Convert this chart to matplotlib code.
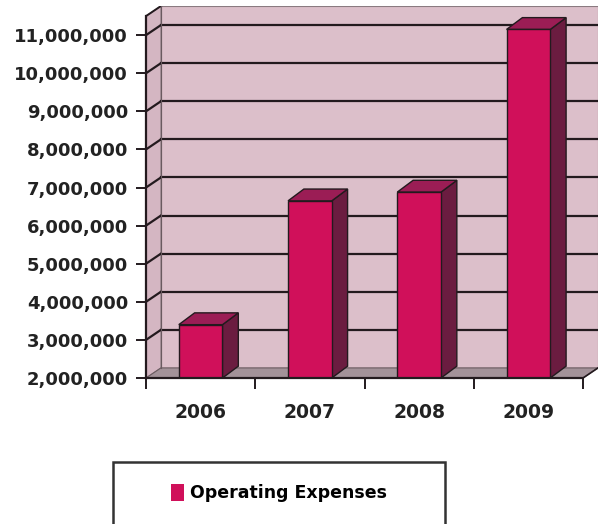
import matplotlib
matplotlib.use("Agg")
import matplotlib.pyplot as plt
from matplotlib.patches import Polygon, Rectangle
import numpy as np

categories = ["2006", "2007", "2008", "2009"]
expenses = [3400000, 6650000, 6880000, 11150000]
tick_values = [2000000, 3000000, 4000000, 5000000, 6000000, 7000000,
               8000000, 9000000, 10000000, 11000000]
series_name = "Operating Expenses"

W, H = 604, 524
fig = plt.figure(figsize=(W / 100, H / 100), dpi=100)
fig.patch.set_facecolor("white")

# axes area in pixels (front axis origin at x=146, y=378)
left_px, right_px, bottom_px, top_px = 146, 598, 378, 6
ax = fig.add_axes([left_px / W, (H - bottom_px) / H,
                   (right_px - left_px) / W, (bottom_px - top_px) / H])

ymin = 2000000
wall_top = 11500000
wdx, wdy = 0.137, 265000       # depth offset of the walls
bdx, bdy = 0.145, 310000       # depth offset of the bars
x0, x1 = -0.5, len(categories) - 0.5
ax.set_xlim(x0, x1 + wdx)
ax.set_ylim(ymin, wall_top + wdy)

wall_col = "#dcbfca"
side_wall_col = "#d4b6c2"
floor_col = "#a39299"
edge = "#231a1e"

# back wall
ax.add_patch(Rectangle((x0 + wdx, ymin + wdy), x1 - x0, wall_top - ymin,
                       facecolor=wall_col, edgecolor="#8a7a80", lw=0.8, zorder=0))
# left side wall
ax.add_patch(Polygon([(x0, ymin), (x0 + wdx, ymin + wdy), (x0 + wdx, wall_top + wdy),
                      (x0, wall_top)], closed=True, facecolor=side_wall_col,
                     edgecolor="#8a7a80", lw=0.8, zorder=0))
# floor
ax.add_patch(Polygon([(x0, ymin), (x1, ymin), (x1 + wdx, ymin + wdy), (x0 + wdx, ymin + wdy)],
                     closed=True, facecolor=floor_col, edgecolor="#6a5a60", lw=0.8, zorder=0.5))

# gridlines
for v in tick_values[1:]:
    ax.plot([x0 + wdx, x1 + wdx], [v + wdy, v + wdy], color=edge, lw=1.6, zorder=1)
    ax.plot([x0, x0 + wdx], [v, v + wdy], color=edge, lw=1.6, zorder=1)
ax.plot([x0, x0 + wdx], [wall_top, wall_top + wdy], color=edge, lw=1.4, zorder=1)
ax.plot([x0 + wdx, x0 + wdx], [ymin + wdy, wall_top + wdy], color="#6a5a60", lw=0.8, zorder=1)
ax.plot([x1, x1 + wdx], [ymin, ymin + wdy], color=edge, lw=1.2, zorder=1)

# bars
front_col = "#d0105a"
top_col = "#9b1d55"
side_col = "#6b1c40"
xs = np.arange(len(categories))
bw = 0.40
vals = np.array(expenses)
ax.bar(xs, vals - ymin, bottom=ymin, width=bw, color=front_col,
       edgecolor=edge, lw=1.0, zorder=3)
for xi, v in zip(xs, vals):
    l, r = xi - bw / 2, xi + bw / 2
    ax.add_patch(Polygon([(r, ymin), (r + bdx, ymin + bdy), (r + bdx, v + bdy), (r, v)],
                         closed=True, facecolor=side_col, edgecolor=edge, lw=1.0, zorder=2.5))
    ax.add_patch(Polygon([(l, v), (r, v), (r + bdx, v + bdy), (l + bdx, v + bdy)],
                         closed=True, facecolor=top_col, edgecolor=edge, lw=1.0, zorder=2.5))

# axes styling
for s in ["top", "right"]:
    ax.spines[s].set_visible(False)
ax.spines["left"].set_bounds(ymin, wall_top)
ax.spines["bottom"].set_bounds(x0, x1)
ax.spines["left"].set_linewidth(1.6)
ax.spines["bottom"].set_linewidth(1.6)
ax.spines["left"].set_color(edge)
ax.spines["bottom"].set_color(edge)
ax.spines["left"].set_zorder(4)
ax.spines["bottom"].set_zorder(4)
ax.patch.set_visible(False)

ax.set_yticks(tick_values)
ax.set_yticklabels([f"{v:,}" for v in tick_values], fontsize=13,
                   fontweight="bold", color="#222222")
ax.tick_params(axis="y", direction="out", length=7, width=1.4, color=edge, pad=6)

ax.set_xticks(xs)
ax.set_xticklabels(categories, fontsize=13.5, fontweight="bold", color="#222222")
ax.tick_params(axis="x", which="major", length=0, pad=18)
ax.set_xticks(np.arange(x0, x1 + 0.01, 1.0), minor=True)
ax.tick_params(axis="x", which="minor", direction="out", length=8, width=1.4, color=edge)

# legend box (bottom edge lies outside the picture)
fig.patches.append(Rectangle((113 / W, -10 / H), 332 / W, (H - 462 + 10) / H,
                             transform=fig.transFigure, facecolor="white",
                             edgecolor="#333333", lw=1.8))
h = Rectangle((0, 0), 1, 1, facecolor=front_col, edgecolor="none")
fig.legend([h], [series_name], loc="center", bbox_to_anchor=(279 / W, (H - 493) / H),
           frameon=False, prop={"weight": "bold", "size": 12.5},
           handlelength=0.75, handleheight=1.1, handletextpad=0.3)

fig.savefig("out.png", dpi=100, facecolor="white")
